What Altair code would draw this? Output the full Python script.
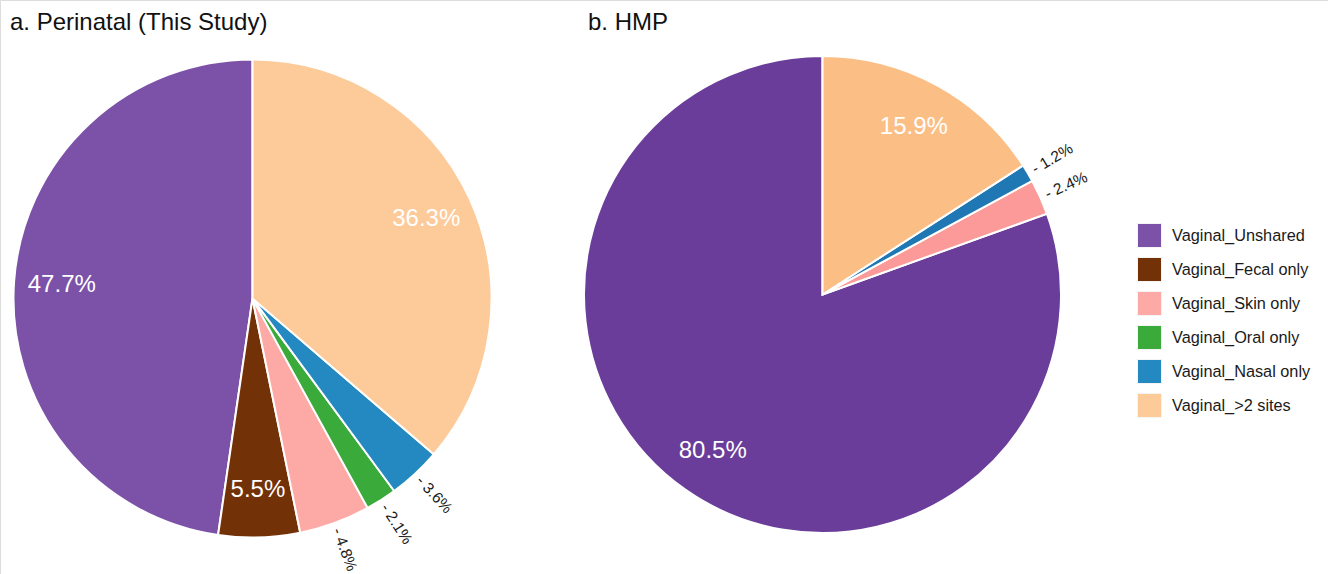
import altair as alt
import pandas as pd

# Sharing categories (legend order)
categories = [
    "Vaginal_Unshared",
    "Vaginal_Fecal only",
    "Vaginal_Skin only",
    "Vaginal_Oral only",
    "Vaginal_Nasal only",
    "Vaginal_>2 sites",
]

# Percentages per panel, in legend order
perinatal_pct = [47.7, 5.5, 4.8, 2.1, 3.6, 36.3]
hmp_pct = [80.5, 0.0, 2.4, 0.0, 1.2, 15.9]

# Fill colours
perinatal_colors = ["#7B52A8", "#733108", "#FDAAA6", "#3AAA3A", "#2389C0", "#FDCA9A"]
hmp_colors = ["#6A3D9A", "#733108", "#FB9A99", "#33A02C", "#1F78B4", "#FBBE85"]

panel_titles = ["a. Perinatal (This Study)", "b. HMP"]

FONT = "Liberation Sans"


def panel_frame(values, colors):
    n = len(categories)
    df = pd.DataFrame({
        "category": categories,
        "value": values,
        "hex": colors,
        # slices run clockwise from 12 o'clock in reverse legend order
        "ord": [n - 1 - i for i in range(n)],
    })
    return df[df["value"] > 0].reset_index(drop=True)


theta_scale = alt.Scale(domain=[0, 100])


def pie_layers(df, cx, cy, radius, use_legend):
    base = alt.Chart(df)

    if use_legend:
        color_enc = alt.Color(
            "category:N",
            scale=alt.Scale(domain=categories, range=perinatal_colors),
            sort=categories,
            legend=alt.Legend(
                title=None,
                orient="none",
                legendX=1137,
                legendY=223,
                symbolType="square",
                symbolSize=576,
                symbolStrokeColor="#f4f4f4",
                symbolStrokeWidth=1,
                symbolOpacity=1,
                labelFont=FONT,
                labelFontSize=16.3,
                labelColor="#1a1a1a",
                labelOffset=10,
                rowPadding=5,
                padding=0,
            ),
        )
        arcs = base.mark_arc(
            radius=radius, stroke="white", strokeWidth=2, opacity=1
        ).encode(
            x=alt.value(cx),
            y=alt.value(cy),
            theta=alt.Theta("value:Q", stack=True, scale=theta_scale),
            color=color_enc,
            order=alt.Order("ord:Q", sort="ascending"),
        )
    else:
        arcs = base.mark_arc(
            radius=radius, stroke="white", strokeWidth=2, opacity=1
        ).encode(
            x=alt.value(cx),
            y=alt.value(cy),
            theta=alt.Theta("value:Q", stack=True, scale=theta_scale),
            fill=alt.Fill("hex:N", scale=None, legend=None),
            order=alt.Order("ord:Q", sort="ascending"),
        )

    # mid-angle of every slice, for the labels
    labelled = base.transform_window(
        cum="sum(value)", sort=[alt.SortField("ord", order="ascending")]
    ).transform_calculate(
        mid="datum.cum - datum.value / 2",
        txt="format(datum.value, '.1f') + '%'",
        small_txt="'- ' + format(datum.value, '.1f') + '%'",
        rot="(datum.mid * 3.6 - 90 + 360) % 360",
    )

    inner = labelled.transform_filter("datum.value >= 5").mark_text(
        radius=radius * 0.8,
        font=FONT,
        fontSize=24,
        color="white",
        align="center",
        baseline="middle",
    ).encode(
        x=alt.value(cx),
        y=alt.value(cy),
        theta=alt.Theta("mid:Q", stack=None, scale=theta_scale),
        text="txt:N",
    )

    outer = labelled.transform_filter("datum.value < 5").mark_text(
        radius=radius + 6,
        font=FONT,
        fontSize=15.5,
        color="#1a1a1a",
        align="left",
        baseline="middle",
    ).encode(
        x=alt.value(cx),
        y=alt.value(cy),
        theta=alt.Theta("mid:Q", stack=None, scale=theta_scale),
        angle=alt.Angle("rot:Q", scale=None),
        text="small_txt:N",
    )
    return [arcs, inner, outer]


df_a = panel_frame(perinatal_pct, perinatal_colors)
df_b = panel_frame(hmp_pct, hmp_colors)

layers = []
layers += pie_layers(df_a, 252.5, 298.5, 239, True)
layers += pie_layers(df_b, 822.5, 294.5, 238.5, False)

titles_df = pd.DataFrame({"title": panel_titles, "px": [10, 588]})
titles = alt.Chart(titles_df).mark_text(
    font=FONT, fontSize=24, color="#111111", align="left", baseline="alphabetic"
).encode(
    x=alt.X("px:Q", scale=None),
    y=alt.value(30),
    text="title:N",
)
layers.append(titles)

chart = alt.layer(*layers).properties(
    width=1328,
    height=574,
    padding=0,
    autosize=alt.AutoSizeParams(type="none"),
).configure_view(stroke=None).configure(background="white")

chart.save("out.html", embed_options={"renderer": "svg", "actions": False})
